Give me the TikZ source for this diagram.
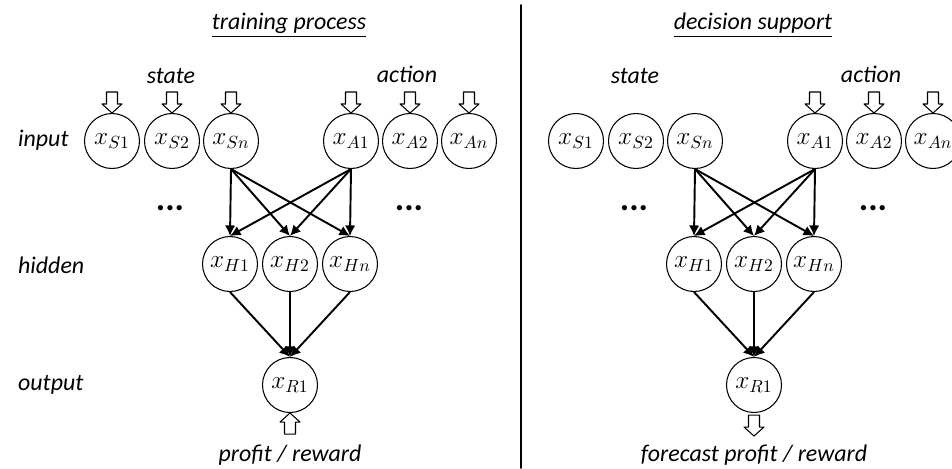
\documentclass[tikz,border=0pt]{standalone}
\usepackage{fontspec}
\setmainfont{Carlito}
\usetikzlibrary{arrows.meta}

\begin{document}
\begin{tikzpicture}[x=0.02cm,y=-0.02cm,line cap=round,line join=round,
  every node/.style={font=\fontsize{13.6}{15}\selectfont\itshape},
  neuron/.style={draw,circle,line width=.6pt,minimum size=1.1cm,inner sep=0pt,
    font=\fontsize{14}{16}\selectfont},
  dots/.style={font=\fontsize{20}{22}\selectfont\bfseries},
  link/.style={line width=1.1pt,-{Latex[length=6pt,width=6pt]}},
  blockarrow/.pic={\draw[line width=.6pt,fill=white]
    (-5.5,-21)--(5.5,-21)--(5.5,-9)--(10,-9)--(0,0)--(-10,-9)--(-5.5,-9)--cycle;}]
  \useasboundingbox (0,0) rectangle (952,468);
  % both panels share the same network
  \foreach \p/\dx/\ttl in {l/0/training process,r/464/decision support}{
    \node (title\p) at (289+\dx,25) {\underline{\ttl}};
    \node (state\p) at (171+\dx,76) {state};
    \node (action\p) at (407+\dx,74) {action};
    \node[neuron] (S1\p) at (112+\dx,141) {$x_{S1}$};
    \node[neuron] (S2\p) at (172+\dx,141) {$x_{S2}$};
    \node[neuron] (Sn\p) at (231+\dx,141) {$x_{Sn}$};
    \node[neuron] (A1\p) at (351+\dx,141) {$x_{A1}$};
    \node[neuron] (A2\p) at (410+\dx,141) {$x_{A2}$};
    \node[neuron] (An\p) at (469+\dx,141) {$x_{An}$};
    \node[dots] (dotsS\p) at (170+\dx,208) {...};
    \node[dots] (dotsA\p) at (409+\dx,208) {...};
    \node[neuron] (H1\p) at (230+\dx,264) {$x_{H1}$};
    \node[neuron] (H2\p) at (290+\dx,264) {$x_{H2}$};
    \node[neuron] (Hn\p) at (350+\dx,264) {$x_{Hn}$};
    \node[neuron] (R1\p) at (290+\dx,385) {$x_{R1}$};
    \foreach \a in {Sn,A1}
      \foreach \h in {H1,H2,Hn}
        \draw[link] (\a\p.south) -- (\h\p.north);
    \foreach \h in {H1,H2,Hn}
      \draw[link] (\h\p.south) -- (R1\p.north);
    \foreach \a in {A1,A2,An}
      \pic at (\a\p.north) {blockarrow};
  }
  % training process only
  \foreach \s in {S1,S2,Sn}
    \pic at (\s l.north) {blockarrow};
  \pic[rotate=180] at (R1l.south) {blockarrow};
  \node (rewardl) at (290,455) {profit / reward};
  \node[anchor=west] (input) at (12,140) {input};
  \node[anchor=west] (hidden) at (12,265) {hidden};
  \node[anchor=west] (output) at (12,385) {output};
  % decision support only
  \pic at ([yshift=-.46cm]R1r.south) {blockarrow};
  \node (rewardr) at (754,455) {forecast profit / reward};
  \draw[line width=1pt] (521,5) -- (521,468);
\end{tikzpicture}
\end{document}
